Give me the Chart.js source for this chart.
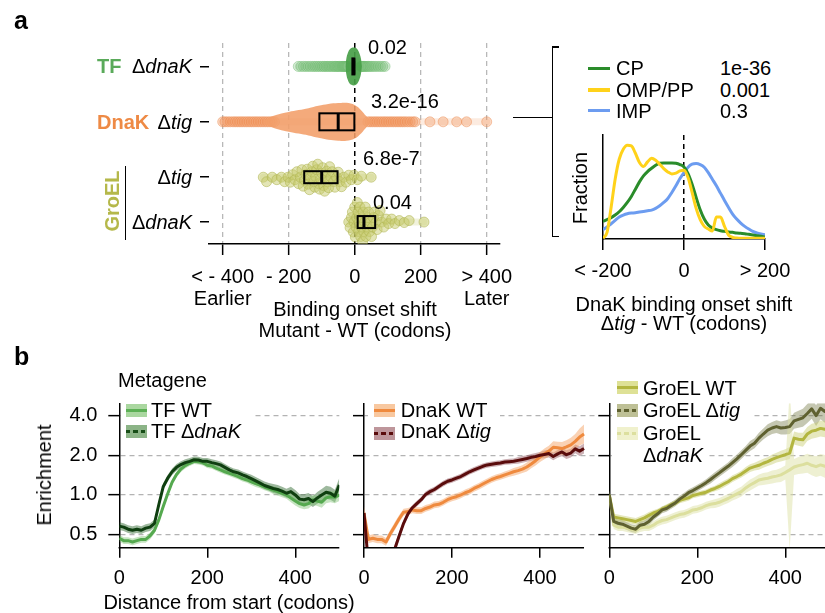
<!DOCTYPE html>
<html><head><meta charset="utf-8">
<script src="https://cdn.jsdelivr.net/npm/chart.js@4.4.1/dist/chart.umd.min.js"></script>
<style>
html,body{margin:0;padding:0;background:#fff;}
body{width:825px;height:613px;overflow:hidden;position:relative;font-family:"Liberation Sans",Arial,Helvetica,sans-serif;}
canvas{position:absolute;}
.t{position:absolute;white-space:nowrap;line-height:1;color:#000;}
.wb{position:absolute;background:#fff;}
.ln{position:absolute;background:#000;}
</style></head><body>
<canvas id="cSwarm" width="545" height="340" style="left:0px;top:0px"></canvas>
<canvas id="cDens" width="275" height="220" style="left:550px;top:120px"></canvas>
<canvas id="cB1" width="345" height="233" style="left:0px;top:380px"></canvas>
<canvas id="cB2" width="258" height="233" style="left:345px;top:380px"></canvas>
<canvas id="cB3" width="250" height="233" style="left:590px;top:380px"></canvas>
<script>
// ================= DATA =================
// ---- Panel a (left): binding onset shift, mutant - WT (codons) ----
const ROW_NAMES = ['TF ΔdnaK', 'DnaK Δtig', 'GroEL Δtig', 'GroEL ΔdnaK'];
const ROW_POS = [0, 1, 2, 2.81];
const X_TICKS_A = [-400, -200, 0, 200, 400];
const X_TICK_LABELS_A = [['< - 400', 'Earlier'], '- 200', '0', '200', ['> 400', 'Later']];
const P_VALUES_A = ['0.02', '3.2e-16', '6.8e-7', '0.04'];
const BOX_Q1 = [-7, -107, -153, 9];
const BOX_MEDIAN = [-3, -50, -100, 28];
const BOX_Q3 = [-1, -1, -52, 62];
const TF_DNAK_PTS = [-171,-163,-155,-148,-141,-134,-127,-121,-115,-109,-103,-97,-92,-87,-82,-77,-72,-67,-62,-58,-54,-50,-46,-42,-38,-35,-32,-29,-26,-23,-20,18,21,24,27,30,34,38,42,47,52,58,64,71,78,85,92];
const DNAK_TIG_PTS = [-400,-393,-385,-377,-369,-362,-355,-348,-341,-334,-327,-320,-313,-306,-299,-292,-285,-278,-271,-264,-257,-250,-243,40,47,54,61,68,75,82,89,96,103,110,117,124,131,138,145,152,160,168,176,183,228,268,309,339,400];
const GROEL_TIG_PTS = [-277,-267,-250,-236,-222,-212,-202,-195,-188,-181,-175,-170,-165,-160,-156,-152,-148,-144,-141,-137,-134,-130,-127,-124,-121,-118,-115,-112,-109,-106,-103,-100,-97,-94,-91,-88,-85,-82,-79,-76,-72,-68,-64,-60,-55,-50,-45,-40,-33,-26,-18,-10,-2,8,20,50];
const GROEL_DNAK_PTS = [-18,-14,-10,-7,-4,-2,0,2,4,6,8,10,12,14,16,18,20,22,24,26,28,30,32,34,36,39,42,45,48,51,54,57,60,64,68,72,77,82,88,95,103,112,122,135,150,165,210];
// dense bodies (relative density)
const TF_BODY_X = [-28,-25,-21,-16,-10,-3,4,10,15,19,22];
const TF_BODY_DENS = [0,0.45,0.7,0.88,0.97,1,0.97,0.85,0.65,0.4,0];
const DNAK_BODY_X = [-280,-260,-230,-200,-170,-140,-110,-80,-50,-25,0,20,35,50,60];
const DNAK_BODY_DENS = [0,0.22,0.4,0.52,0.62,0.72,0.84,0.94,0.99,1,0.88,0.6,0.3,0.08,0];

// ---- Panel a (right): density of DnaK onset shift ----
const DENS_X = [-200,-190,-180,-170,-160,-150,-140,-130,-120,-110,-100,-90,-80,-70,-60,-50,-40,-30,-20,-10,0,10,20,30,40,50,60,70,80,90,100,110,120,130,140,150,160,170,180,190,200];
const DENS_CP  = [53,58,64,72,82,95,110,128,150,172, 190,203,213,222,228,229,229,229,228,224, 217,197,165,125,88,60,42,33,28,25, 23,21,20,18,17,16,14,12,10,8, 6];
const DENS_OMP = [2,20,95,180,240,270,282,280,258,230, 218,232,243,237,225,212,202,196,198,205, 207,185,140,92,58,38,30,24,66,66, 38,12,5,3,2,2,2,2,2,2, 2];
const DENS_IMP = [28,36,46,56,66,72,76,78,79,81, 83,85,87,92,100,110,122,140,160,182, 200,216,225,227,224,216,200,180,160,138, 116,95,75,60,48,38,30,23,18,15, 13];
const DENS_NAMES = ['CP', 'OMP/PP', 'IMP'];
const DENS_P = ['1e-36', '0.001', '0.3'];
const DENS_TICKS = [-200, 0, 200];
const DENS_TICK_LABELS = ['< -200', '0', '> 200'];

// ---- Panel b: metagene enrichment ----
const X_B = [0,10,20,30,40,50,60,70,80,90,100,110,120,130,140,150,160,170,180,190,200,210,220,230,240,250,260,270,280,290,300,310,320,330,340,350,360,370,380,390,400,410,420,430,440,450,460,470,480,490,500];
const Y_TICKS_B = [0.5, 1, 2, 4];
const X_TICKS_B = [0, 200, 400];
const TF_WT = [0.47,0.45,0.45,0.44,0.45,0.46,0.46,0.49,0.54,0.65, 0.82,1.02,1.25,1.43,1.57,1.67,1.74,1.80,1.79,1.76, 1.68,1.66,1.60,1.55,1.50,1.46,1.42,1.38,1.33,1.30, 1.26,1.22,1.19,1.15,1.12,1.09,1.06,1.03,1.00,0.95, 0.90,0.86,0.84,0.86,0.92,0.90,0.88,0.95,0.97,0.96, 1.00];
const TF_WT_CI = [0.06,0.06,0.06,0.06,0.06,0.06,0.06,0.06,0.06,0.06, 0.05,0.05,0.05,0.05,0.05,0.05,0.05,0.05,0.05,0.05, 0.05,0.05,0.05,0.05,0.05,0.05,0.05,0.05,0.05,0.05, 0.06,0.06,0.06,0.06,0.06,0.07,0.07,0.07,0.07,0.08, 0.08,0.08,0.08,0.09,0.09,0.09,0.10,0.10,0.10,0.11, 0.11];
const TF_DNAK = [0.58,0.57,0.55,0.54,0.55,0.54,0.56,0.57,0.61,0.85, 1.16,1.34,1.50,1.62,1.70,1.76,1.80,1.85,1.84,1.80, 1.80,1.76,1.73,1.69,1.62,1.55,1.50,1.47,1.42,1.38, 1.33,1.28,1.23,1.18,1.15,1.12,1.10,1.07,1.03,1.06, 1.00,0.93,0.92,0.94,0.89,0.95,1.00,1.05,1.03,0.98, 1.19];
const TF_DNAK_CI = [0.07,0.07,0.07,0.07,0.07,0.07,0.07,0.07,0.07,0.07, 0.06,0.06,0.06,0.06,0.06,0.06,0.06,0.06,0.06,0.06, 0.06,0.06,0.06,0.06,0.06,0.06,0.06,0.06,0.06,0.06, 0.07,0.07,0.07,0.07,0.07,0.08,0.08,0.08,0.08,0.09, 0.09,0.09,0.10,0.10,0.10,0.11,0.11,0.12,0.12,0.12, 0.13];
const DNAK_WT = [0.73,0.46,0.47,0.46,0.46,0.44,0.51,0.58,0.66,0.74, 0.75,0.77,0.76,0.76,0.79,0.81,0.84,0.85,0.88,0.92, 0.95,0.97,1.00,1.04,1.07,1.12,1.16,1.21,1.26,1.31, 1.35,1.38,1.42,1.46,1.50,1.53,1.57,1.63,1.72,1.82, 1.94,2.05,2.15,2.30,2.28,2.25,2.32,2.40,2.55,2.75, 2.90];
const DNAK_WT_CI = [0.12,0.07,0.07,0.07,0.07,0.07,0.07,0.07,0.07,0.06, 0.06,0.06,0.06,0.06,0.06,0.06,0.06,0.06,0.06,0.06, 0.06,0.06,0.06,0.06,0.06,0.06,0.06,0.06,0.06,0.06, 0.06,0.06,0.06,0.06,0.07,0.07,0.07,0.08,0.08,0.09, 0.09,0.10,0.10,0.11,0.11,0.12,0.12,0.13,0.14,0.16, 0.18];
const DNAK_TIG = [0.73,0.30,0.30,0.30,0.30,0.30,0.30,0.39,0.49,0.61, 0.72,0.80,0.86,0.92,1.01,1.06,1.10,1.16,1.22,1.27, 1.30,1.34,1.38,1.44,1.50,1.55,1.60,1.65,1.69,1.71, 1.73,1.75,1.78,1.79,1.80,1.83,1.86,1.89,1.93,1.96, 2.00,2.03,2.06,1.96,2.05,2.12,2.02,2.08,2.24,2.15, 2.25];
const DNAK_TIG_CI = [0.10,0.10,0.10,0.10,0.10,0.10,0.10,0.08,0.07,0.06, 0.05,0.05,0.05,0.05,0.05,0.05,0.05,0.05,0.05,0.05, 0.05,0.05,0.05,0.05,0.05,0.05,0.05,0.05,0.05,0.05, 0.05,0.05,0.05,0.05,0.05,0.06,0.06,0.06,0.06,0.06, 0.06,0.07,0.07,0.07,0.07,0.08,0.08,0.08,0.08,0.09, 0.09];
const GROEL_WT = [1.00,0.68,0.67,0.66,0.65,0.64,0.63,0.65,0.67,0.70, 0.73,0.75,0.78,0.81,0.84,0.87,0.91,0.93,0.95,0.99, 1.01,1.03,1.05,1.09,1.12,1.16,1.21,1.26,1.33,1.38, 1.44,1.52,1.60,1.64,1.68,1.74,1.79,1.86,1.92,1.97, 2.02,2.08,2.70,2.65,2.62,2.90,3.05,3.10,3.20,3.15, 3.10];
const GROEL_WT_CI = [0.08,0.06,0.06,0.06,0.06,0.06,0.06,0.06,0.06,0.06, 0.05,0.05,0.05,0.05,0.05,0.05,0.05,0.05,0.05,0.05, 0.05,0.05,0.05,0.05,0.05,0.06,0.06,0.06,0.06,0.06, 0.06,0.07,0.07,0.07,0.08,0.08,0.08,0.09,0.09,0.10, 0.10,0.11,0.12,0.12,0.13,0.13,0.14,0.14,0.15,0.15, 0.16];
const GROEL_TIG = [1.00,0.63,0.61,0.60,0.58,0.56,0.55,0.59,0.60,0.63, 0.68,0.72,0.77,0.79,0.83,0.87,0.93,0.98,1.04,1.08, 1.13,1.18,1.24,1.31,1.39,1.47,1.56,1.65,1.76,1.88, 2.02,2.18,2.35,2.47,2.70,2.90,3.10,3.22,3.30,3.22, 3.25,3.30,3.65,3.75,3.85,4.15,4.50,4.00,4.55,4.30, 4.60];
const GROEL_TIG_CI = [0.08,0.07,0.07,0.07,0.07,0.07,0.07,0.07,0.07,0.07, 0.06,0.06,0.06,0.06,0.06,0.06,0.06,0.06,0.06,0.06, 0.06,0.06,0.06,0.07,0.07,0.07,0.07,0.07,0.08,0.08, 0.08,0.08,0.09,0.09,0.10,0.10,0.11,0.11,0.12,0.12, 0.13,0.14,0.15,0.16,0.17,0.18,0.19,0.20,0.21,0.22, 0.23];
const GROEL_DNAK = [1.00,0.59,0.57,0.57,0.56,0.55,0.54,0.56,0.57,0.57, 0.59,0.62,0.64,0.65,0.67,0.69,0.71,0.72,0.74,0.77, 0.78,0.80,0.83,0.85,0.86,0.88,0.91,0.94,0.98,1.02, 1.06,1.13,1.19,1.24,1.30,1.32,1.34,1.37,1.39,1.42, 1.48,1.55,1.63,1.67,1.70,1.74,1.68,1.64,1.69,1.65, 1.62];
const GROEL_DNAK_CI = [0.08,0.07,0.07,0.07,0.07,0.07,0.07,0.07,0.07,0.07, 0.07,0.07,0.07,0.07,0.07,0.07,0.07,0.07,0.07,0.07, 0.07,0.07,0.07,0.07,0.08,0.08,0.08,0.08,0.08,0.09, 0.09,0.09,0.10,0.10,0.10,0.11,0.11,0.12,0.12,0.13, 0.13,3.00,0.15,0.16,0.17,0.18,0.19,0.20,0.21,0.22, 0.23];

// ================= STYLE / LAYOUT =================
const FONT = '"Liberation Sans", Arial, Helvetica, sans-serif';
Chart.defaults.font.family = FONT;
Chart.defaults.font.size = 20;
Chart.defaults.color = '#000';
const COL_TF = '#5aaa5a', COL_DNAK = '#ee8a45', COL_GROEL = '#b5b84a';

// ---------- Panel a left ----------
const boxPlugin = { id: 'boxes', afterDatasetsDraw(chart) {
  const sx = chart.scales.x, sy = chart.scales.y, c = chart.ctx;
  const halfH = [8, 8.5, 6, 6];
  c.save(); c.strokeStyle = '#000';
  ROW_POS.forEach((row, i) => {
    const y = sy.getPixelForValue(row);
    const x1 = sx.getPixelForValue(BOX_Q1[i]), x2 = sx.getPixelForValue(BOX_Q3[i]), xm = sx.getPixelForValue(BOX_MEDIAN[i]);
    c.lineWidth = 2; c.strokeRect(x1, y - halfH[i], x2 - x1, 2 * halfH[i]);
    c.lineWidth = 3; c.beginPath(); c.moveTo(xm, y - halfH[i]); c.lineTo(xm, y + halfH[i]); c.stroke();
  });
  c.restore();
}};
function dotSet(fill, border, order) {
  return { data: [], showLine: false, pointRadius: 5, pointBackgroundColor: fill, pointBorderColor: border, pointBorderWidth: 1, order };
}
function stripSet(color, order) { return { data: [], borderColor: color, borderWidth: 7, pointRadius: 0, order, borderCapStyle: 'round' }; }
const chartA = new Chart(document.getElementById('cSwarm'), {
  type: 'line',
  data: { datasets: [
    stripSet('rgba(150,205,150,0.25)', 9),                                  //0
    dotSet('rgba(130,195,130,0.33)', 'rgba(100,180,100,0.42)', 8),           //1
    { data: [], borderWidth: 0, pointRadius: 0, fill: false, tension: 0.4, order: 7 }, //2
    { data: [], borderWidth: 0, pointRadius: 0, fill: '-1', backgroundColor: 'rgba(72,160,72,0.92)', tension: 0.4, order: 7 }, //3
    stripSet('rgba(245,175,130,0.25)', 9),                                  //4
    dotSet('rgba(242,150,95,0.36)', 'rgba(235,135,75,0.45)', 8),             //5
    { data: [], borderWidth: 0, pointRadius: 0, fill: false, tension: 0.4, order: 7 }, //6
    { data: [], borderWidth: 0, pointRadius: 0, fill: '-1', backgroundColor: 'rgba(242,158,105,0.88)', tension: 0.4, order: 7 }, //7
    stripSet('rgba(210,212,140,0.3)', 9),                                   //8
    dotSet('rgba(200,203,110,0.5)', 'rgba(175,180,80,0.55)', 8),             //9
    stripSet('rgba(210,212,140,0.3)', 9),                                   //10
    dotSet('rgba(200,203,110,0.5)', 'rgba(175,180,80,0.55)', 8)              //11
  ]},
  options: {
    responsive: false, animation: false, events: [],
    layout: { padding: { top: 43, right: 45, left: 0, bottom: 0 } },
    plugins: { legend: { display: false }, tooltip: { enabled: false } },
    scales: {
      x: { type: 'linear', min: -441.5, max: 440.3, z: 1,
        afterBuildTicks: s => { s.ticks = X_TICKS_A.map(v => ({ value: v })); },
        ticks: { callback: (v, i) => X_TICK_LABELS_A[i], padding: 11, maxRotation: 0, autoSkip: false, font: { size: 20, lineHeight: 1.1 } },
        grid: { color: c => (c.tick && c.tick.value === 0) ? '#000' : '#b8b8b8', lineWidth: c => (c.tick && c.tick.value === 0) ? 1.5 : 1.3, tickColor: '#000', tickLength: 11, tickWidth: 1.5 },
        border: { color: '#000', width: 1.5, dash: [5, 4] },
        afterFit: s => { s.height = 96; } },
      y: { type: 'linear', min: -0.423, max: 3.206, reverse: true,
        afterBuildTicks: s => { s.ticks = ROW_POS.map(v => ({ value: v })); },
        ticks: { callback: () => '' },
        grid: { drawOnChartArea: false, tickLength: 9, color: '#000', lineWidth: 1.5 },
        border: { display: false },
        afterFit: s => { s.width = 209; } }
    }
  },
  plugins: [boxPlugin]
});
(function buildA(chart) {
  const sx = chart.scales.x, sy = chart.scales.y, ds = chart.data.datasets;
  const pxRow = Math.abs(sy.getPixelForValue(1) - sy.getPixelForValue(0));
  const strip = (pts, row) => [{ x: Math.min(...pts), y: row }, { x: Math.max(...pts), y: row }];
  const line = (pts, row) => pts.map(v => ({ x: v, y: row }));
  const body = (xs, dens, row, hw, sign) => xs.map((x, i) => ({ x, y: row + sign * dens[i] * hw / pxRow }));
  const swarm = (pts, row, minDist) => {
    const placed = [], out = [];
    [...pts].sort((a, b) => a - b).forEach(v => {
      const px = sx.getPixelForValue(v);
      let off = 0;
      for (let k = 0; k < 400; k++) {
        const c = k === 0 ? 0 : (k % 2 ? 1 : -1) * Math.ceil(k / 2) * 0.5;
        if (placed.every(p => (p.x - px) ** 2 + (p.y - c) ** 2 >= minDist * minDist)) { off = c; break; }
      }
      placed.push({ x: px, y: off });
      out.push({ x: v, y: row + off / pxRow });
    });
    return out;
  };
  ds[0].data = strip(TF_DNAK_PTS, ROW_POS[0]);
  ds[1].data = line(TF_DNAK_PTS, ROW_POS[0]);
  ds[2].data = body(TF_BODY_X, TF_BODY_DENS, ROW_POS[0], 19, -1);
  ds[3].data = body(TF_BODY_X, TF_BODY_DENS, ROW_POS[0], 19, 1);
  ds[4].data = strip(DNAK_TIG_PTS, ROW_POS[1]);
  ds[5].data = line(DNAK_TIG_PTS, ROW_POS[1]);
  ds[6].data = body(DNAK_BODY_X, DNAK_BODY_DENS, ROW_POS[1], 19, -1);
  ds[7].data = body(DNAK_BODY_X, DNAK_BODY_DENS, ROW_POS[1], 19, 1);
  ds[8].data = strip(GROEL_TIG_PTS, ROW_POS[2]);
  ds[9].data = swarm(GROEL_TIG_PTS, ROW_POS[2], 5.2);
  ds[10].data = strip(GROEL_DNAK_PTS, ROW_POS[3]);
  ds[11].data = swarm(GROEL_DNAK_PTS, ROW_POS[3], 5.2);
  chart.update('none');
})(chartA);

// ---------- Panel a right: density ----------
const DENS_COLORS = ['#2a8c2a', '#ffd21a', '#6c9cf0'];
new Chart(document.getElementById('cDens'), {
  type: 'line',
  data: { datasets: [
    { data: DENS_X.map((x, i) => ({ x, y: DENS_OMP[i] })), borderColor: DENS_COLORS[1], borderWidth: 3, pointRadius: 0, cubicInterpolationMode: 'monotone', order: 1 },
    { data: DENS_X.map((x, i) => ({ x, y: DENS_CP[i] })), borderColor: DENS_COLORS[0], borderWidth: 3, pointRadius: 0, cubicInterpolationMode: 'monotone', order: 2 },
    { data: DENS_X.map((x, i) => ({ x, y: DENS_IMP[i] })), borderColor: DENS_COLORS[2], borderWidth: 3, pointRadius: 0, cubicInterpolationMode: 'monotone', order: 3 }
  ]},
  options: {
    responsive: false, animation: false, events: [],
    layout: { padding: { top: 15, right: 60, left: 0, bottom: 0 } },
    plugins: { legend: { display: false }, tooltip: { enabled: false } },
    scales: {
      x: { type: 'linear', min: -200, max: 200,
        afterBuildTicks: s => { s.ticks = DENS_TICKS.map(v => ({ value: v })); },
        ticks: { callback: (v, i) => DENS_TICK_LABELS[i], padding: 9, maxRotation: 0, autoSkip: false },
        grid: { color: c => (c.tick && c.tick.value === 0) ? '#000' : 'rgba(0,0,0,0)', lineWidth: 1.5, tickColor: '#000', tickLength: 11, tickWidth: 1.5 },
        border: { color: '#000', width: 1.5, dash: [5, 4] },
        afterFit: s => { s.height = 101; } },
      y: { type: 'linear', min: 0, max: 313,
        ticks: { display: false }, grid: { display: false },
        border: { color: '#000', width: 1.5 },
        afterFit: s => { s.width = 53; } }
    }
  }
});

// ---------- Panel b ----------
const xAxisLine = { id: 'xAxisLine', afterDraw(chart) {
  const s = chart.scales.x, y = chart.chartArea.bottom, c = chart.ctx;
  c.save(); c.strokeStyle = '#000'; c.lineWidth = 1.5; c.beginPath();
  c.moveTo(s.getPixelForValue(0) - 0.75, y); c.lineTo(s.getPixelForValue(500), y); c.stroke(); c.restore();
}};
// legend frame: white box drawn above the grid but beneath the data (like a low-zorder legend)
const legendFrame = { id: 'legendFrame', beforeDatasetsDraw(chart, args, o) {
  const c = chart.ctx; c.save(); c.fillStyle = '#fff';
  (o.boxes || []).forEach(b => c.fillRect(b[0], b[1], b[2], b[3]));
  c.restore();
}};
function metaChart(id, series, opt) {
  const datasets = [];
  series.forEach((sr, k) => {
    datasets.push({ data: X_B.map((x, i) => ({ x, y: sr.v[i] / (1 + sr.ci[i]) })), borderWidth: 0, pointRadius: 0, fill: false, order: 20 + k });
    datasets.push({ data: X_B.map((x, i) => ({ x, y: sr.v[i] * (1 + sr.ci[i]) })), borderWidth: 0, pointRadius: 0, fill: '-1', backgroundColor: sr.band, order: 20 + k });
    datasets.push({ data: X_B.map((x, i) => ({ x, y: sr.v[i] })), borderColor: sr.line, borderWidth: 3, pointRadius: 0, fill: false, order: sr.order, borderJoinStyle: 'round' });
  });
  const el = document.getElementById(id);
  const ox = parseFloat(el.style.left), oy = parseFloat(el.style.top);
  return new Chart(el, {
    type: 'line', data: { datasets },
    options: {
      responsive: false, animation: false, events: [],
      layout: { padding: { top: 23.3, right: opt.padRight, left: 0, bottom: 0 } },
      plugins: { legend: { display: false }, tooltip: { enabled: false },
        legendFrame: { boxes: opt.frames.map(b => [b[0] - ox, b[1] - oy, b[2], b[3]]) } },
      scales: {
        x: { type: 'linear', min: 0, max: opt.xMax,
          afterBuildTicks: s => { s.ticks = X_TICKS_B.map(v => ({ value: v })); },
          ticks: { padding: 9, maxRotation: 0, autoSkip: false },
          grid: { drawOnChartArea: false, tickLength: 10, color: '#000', lineWidth: 1.5 },
          border: { display: false },
          afterFit: s => { s.height = 65.3; } },
        y: { type: 'logarithmic', min: 0.398, max: 4.96,
          afterBuildTicks: s => { s.ticks = Y_TICKS_B.map(v => ({ value: v })); },
          ticks: { callback: v => opt.yLabels ? Number(v).toFixed(1) : '', padding: 11 },
          grid: { color: '#b3b3b3', lineWidth: 1.3, tickColor: '#000', tickLength: 11, tickWidth: 1.5 },
          border: { color: '#000', width: 1.5, dash: [5, 4] },
          afterFit: s => { s.width = opt.yWidth; } }
      }
    },
    plugins: [xAxisLine, legendFrame]
  });
}
const SER_TF_WT = { v: TF_WT, ci: TF_WT_CI, line: '#55a94f', band: 'rgba(130,195,120,0.45)', order: 2 };
const SER_TF_DNAK = { v: TF_DNAK, ci: TF_DNAK_CI, line: '#0f3f10', band: 'rgba(40,100,40,0.45)', order: 1 };
const SER_DNAK_WT = { v: DNAK_WT, ci: DNAK_WT_CI, line: '#ef8a3e', band: 'rgba(245,165,105,0.5)', order: 2 };
const SER_DNAK_TIG = { v: DNAK_TIG, ci: DNAK_TIG_CI, line: '#5a0c0c', band: 'rgba(130,60,70,0.4)', order: 1 };
const SER_GROEL_WT = { v: GROEL_WT, ci: GROEL_WT_CI, line: '#b3b640', band: 'rgba(200,205,110,0.45)', order: 2 };
const SER_GROEL_TIG = { v: GROEL_TIG, ci: GROEL_TIG_CI, line: '#5f6130', band: 'rgba(110,115,60,0.4)', order: 1 };
const SER_GROEL_DNAK = { v: GROEL_DNAK, ci: GROEL_DNAK_CI, line: '#dcdf9e', band: 'rgba(222,225,165,0.5)', order: 3 };
metaChart('cB1', [SER_TF_WT, SER_TF_DNAK], { xMax: 500, padRight: 5.7, yWidth: 119.3, yLabels: true, frames: [[121, 397, 131, 49]] });
metaChart('cB2', [SER_DNAK_WT, SER_DNAK_TIG], { xMax: 532, padRight: 4.9, yWidth: 19, yLabels: false, frames: [[368, 397, 132, 49]] });
metaChart('cB3', [SER_GROEL_DNAK, SER_GROEL_WT, SER_GROEL_TIG], { xMax: 500, padRight: 10.7, yWidth: 19.3, yLabels: false, frames: [[612, 372, 140, 80], [612, 372, 96, 98]] });

// ================= TEXT & DECORATION (HTML) =================
function T(html, x, base, o = {}) {
  const s = o.size || 20, d = document.createElement('div');
  d.className = 't'; d.innerHTML = html; d.style.fontSize = s + 'px';
  if (o.bold) d.style.fontWeight = 'bold';
  if (o.color) d.style.color = o.color;
  d.style.left = x + 'px'; d.style.top = (base - 0.8465 * s) + 'px';
  const tx = o.align === 'center' ? '-50%' : o.align === 'right' ? '-100%' : '0';
  d.style.transform = 'translateX(' + tx + ')';
  document.body.appendChild(d); return d;
}
function TR(html, cx, cy, o = {}) {
  const s = o.size || 20, d = document.createElement('div');
  d.className = 't'; d.innerHTML = html; d.style.fontSize = s + 'px';
  if (o.bold) d.style.fontWeight = 'bold';
  if (o.color) d.style.color = o.color;
  d.style.left = cx + 'px'; d.style.top = cy + 'px';
  d.style.transform = 'translate(-50%,-50%) rotate(-90deg)';
  document.body.appendChild(d); return d;
}
function R(cls, x, y, w, h, bg) {
  const d = document.createElement('div'); d.className = cls;
  Object.assign(d.style, { left: x + 'px', top: y + 'px', width: w + 'px', height: h + 'px' });
  if (bg) d.style.background = bg;
  document.body.appendChild(d); return d;
}
function swatch(x, yc, band, line, dashed) {
  const b = R('wb', x, yc - 6.5, 21, 13, band);
  const l = document.createElement('div');
  Object.assign(l.style, { position: 'absolute', left: '0px', top: '5px', width: '21px', height: '3.3px' });
  l.style.background = dashed ? `repeating-linear-gradient(90deg, ${line} 0px, ${line} 4.5px, transparent 4.5px, transparent 7.5px)` : line;
  b.appendChild(l);
}
const D = 'Δ';
// panel letters
T('a', 14, 29.3, { size: 25, bold: true });
T('b', 14, 365, { size: 25, bold: true });
// panel a rows
T('TF', 97, 73.2, { bold: true, color: COL_TF });
T(D + '<i>dnaK</i>', 192, 73.2, { align: 'right' });
T('DnaK', 97, 129, { bold: true, color: COL_DNAK });
T(D + '<i>tig</i>', 192, 129, { align: 'right' });
T(D + '<i>tig</i>', 192, 184.3, { align: 'right' });
T(D + '<i>dnaK</i>', 192, 229.3, { align: 'right' });
TR('GroEL', 112, 201, { bold: true, color: COL_GROEL });
R('ln', 124.5, 166, 1.5, 74);
// p-values
T(P_VALUES_A[0], 368, 54);
T(P_VALUES_A[1], 371, 108.3);
T(P_VALUES_A[2], 363, 165);
T(P_VALUES_A[3], 373, 209.3);
T('Binding onset shift', 355, 316, { align: 'center' });
T('Mutant - WT (codons)', 355, 337, { align: 'center' });
// bracket
R('ln', 513, 116.5, 40, 1.5);
R('ln', 551.5, 46, 1.5, 191);
R('ln', 551.5, 46, 7, 1.5);
R('ln', 551.5, 235.5, 7, 1.5);
// density legend
[68.3, 90, 110.7].forEach((yc, i) => {
  R('ln', 588, yc - 1.75, 22, 3.5, DENS_COLORS[i]);
  T(DENS_NAMES[i], 616, yc + 7, {});
  T(DENS_P[i], 720, yc + 7, {});
});
TR('Fraction', 579.5, 187.5);
T('DnaK binding onset shift', 684, 311, { align: 'center' });
T(D + '<i>tig</i> - WT (codons)', 684, 330, { align: 'center' });
// panel b
T('Metagene', 118, 386.7);
TR('Enrichment', 44, 475);
T('Distance from start (codons)', 229, 609, { align: 'center' });
// legends b1
swatch(126, 410, 'rgba(170,215,160,1)', '#5cb055', false);
swatch(126, 431, 'rgba(140,180,135,1)', '#174d17', true);
T('TF WT', 151, 416.7);
T('TF ' + D + '<i>dnaK</i>', 151, 438.3);
// legends b2
swatch(373.5, 410, 'rgba(248,200,160,1)', '#ef8a3e', false);
swatch(373.5, 433, 'rgba(190,150,155,1)', '#5a0c0c', true);
T('DnaK WT', 400.7, 416.7);
T('DnaK ' + D + '<i>tig</i>', 400.7, 438.3);
// legends b3
swatch(616.5, 387.5, 'rgba(222,225,150,1)', '#b3b640', false);
swatch(616.5, 410.7, 'rgba(190,192,150,1)', '#5f6130', true);
swatch(616.5, 433.3, 'rgba(240,241,205,1)', '#dcdf9e', true);
T('GroEL WT', 643, 394.5);
T('GroEL ' + D + '<i>tig</i>', 643, 417);
T('GroEL', 643, 440);
T(D + '<i>dnaK</i>', 643, 462);
</script></body></html>
